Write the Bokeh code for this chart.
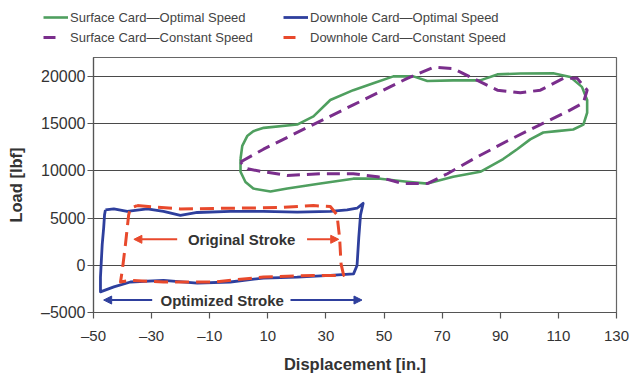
from bokeh.plotting import figure
from bokeh.layouts import column
from bokeh.models import (Range1d, FixedTicker, Legend, LegendItem, Label,
                          Arrow, NormalHead)
from bokeh.embed import file_html
from bokeh.resources import INLINE

# ---------------- data ----------------
x_ticks = [-50, -30, -10, 10, 30, 50, 70, 90, 110, 130]
x_tick_labels = ["\u201350", "\u201330", "\u201310", "10", "30", "50", "70", "90", "110", "130"]
y_ticks = [-5000, 0, 5000, 10000, 15000, 20000]
y_tick_labels = ["\u20135000", "0", "5000", "10000", "15000", "20000"]

series_names = ["Surface Card\u2014Optimal Speed", "Surface Card\u2014Constant Speed",
                "Downhole Card\u2014Optimal Speed", "Downhole Card\u2014Constant Speed"]

surface_opt_x = [0.6, 1.2, 2.9, 5.0, 8.6, 20.1, 25.7, 31.5, 39.4, 46.3, 53.2, 60.1, 64.9,
                 73.8, 83.1, 89.0, 96.9, 108.2, 114.1, 118.1, 119.9, 119.9, 118.6, 115.1,
                 109.5, 104.8, 100.3, 95.8, 91.0, 83.1, 73.8, 64.9, 58.0, 48.7, 39.4, 28.1,
                 16.7, 10.9, 5.0, 2.3, 0.6]
surface_opt_y = [11250, 12640, 13680, 14200, 14550, 14900, 15760, 17500, 18540, 19270, 20000,
                 20000, 19510, 19580, 19580, 20210, 20310, 20340, 19930, 18890, 17500, 16150,
                 14900, 14380, 14200, 14060, 13330, 12290, 11250, 9900, 9380, 8650, 8850,
                 9170, 9170, 8650, 8130, 7810, 8120, 8820, 9900]

surface_const_x = [0.6, 8.5, 22.2, 39.4, 58.0, 67.0, 73.8, 80.7, 89.0, 96.9, 103.8, 111.7,
                   116.5, 119.9, 118.6, 113.1, 103.8, 92.4, 80.7, 71.8, 64.9, 56.6, 47.7,
                   39.4, 28.1, 16.7, 8.5, 3.0]
surface_const_y = [10940, 12290, 14380, 16980, 19790, 20970, 20830, 19790, 18540, 18260,
                   18540, 19790, 19790, 18540, 17190, 16280, 14900, 13160, 11250, 9690,
                   8650, 8650, 9380, 9690, 9690, 9510, 9900, 10210]

downhole_opt_x = [-45.9, -43.0, -38.4, -31.5, -25.9, -20.1, -14.3, -2.9, 8.5, 20.1, 31.5,
                  37.3, 40.7, 42.8, 41.9, 41.3, 40.7, 39.5, 31.5, 20.1, 8.5, -2.9, -14.3,
                  -25.9, -37.3, -43.0, -47.6, -47.6, -47.0, -46.5, -46.2]
downhole_opt_y = [5860, 5970, 5700, 5970, 5700, 5280, 5590, 5700, 5700, 5620, 5700, 5860,
                  6040, 6560, 5340, 2920, -30, -910, -1070, -1250, -1350, -1770, -1880,
                  -1590, -1770, -2290, -2810, -1250, 2220, 3960, 5340]

downhole_const_x = [-35.0, -20.1, -2.9, 14.3, 25.7, 31.5, 33.8, 34.7, 35.2, 36.1, 25.7, 8.5,
                    -8.6, -25.9, -37.3, -40.7, -40.1, -39.0, -37.9, -37.3]
downhole_const_y = [6320, 5970, 6040, 6110, 6320, 6220, 5340, 2920, 140, -1070, -1070, -1250,
                    -1770, -1770, -1590, -1770, -550, 2220, 5340, 6040]

# stroke annotations: text, text position, arrow (tail, head) pairs
original_stroke_text = "Original Stroke"
original_stroke_pos = (1.0, 2750)
original_stroke_arrows = [(-21.2, -36.1), (23.5, 34.4)]
optimized_stroke_text = "Optimized Stroke"
optimized_stroke_pos = (-5.7, -3680)
optimized_stroke_arrows = [(-29.8, -46.5), (17.8, 42.4)]

# ---------------- styling ----------------
GREEN = "#4f9f5f"
PURPLE = "#7a2e8c"
BLUE = "#2e3f9d"
RED = "#e8492c"
TEXT = "#333333"
FONT = "Liberation Sans"

styles = [dict(line_color=GREEN, line_width=2.6),
          dict(line_color=PURPLE, line_width=3, line_dash="13 7"),
          dict(line_color=BLUE, line_width=2.8),
          dict(line_color=RED, line_width=3, line_dash="14 7")]
legend_styles = [dict(line_color=GREEN, line_width=2.6),
                 dict(line_color=PURPLE, line_width=3, line_dash="12 20"),
                 dict(line_color=BLUE, line_width=2.8),
                 dict(line_color=RED, line_width=3, line_dash="12 20")]

# ---------------- main plot ----------------
p = figure(width=629, height=319, output_backend="svg", toolbar_location=None,
           x_range=Range1d(-50, 130), y_range=Range1d(-5000, 22000),
           min_border_left=93, min_border_right=13, min_border_top=1,
           min_border_bottom=60)
p.frame_align = False
p.background_fill_color = "white"
p.border_fill_color = "white"
p.outline_line_color = "#666666"
p.outline_line_width = 1.2

p.xgrid.visible = False
p.ygrid.ticker = FixedTicker(ticks=y_ticks)
p.ygrid.grid_line_color = "#4a4a4a"
p.ygrid.grid_line_width = 1.2

p.xaxis.ticker = FixedTicker(ticks=x_ticks)
p.yaxis.ticker = FixedTicker(ticks=y_ticks)
p.xaxis.major_label_overrides = dict(zip(x_ticks, x_tick_labels))
p.yaxis.major_label_overrides = dict(zip(y_ticks, y_tick_labels))
for ax in (p.xaxis[0], p.yaxis[0]):
    ax.axis_line_color = "#555555"
    ax.axis_line_width = 1.2
    ax.major_tick_line_color = "#555555"
    ax.major_tick_line_width = 1.2
    ax.major_tick_out = 6
    ax.major_tick_in = 0
    ax.minor_tick_line_color = None
    ax.major_label_text_font = FONT
    ax.major_label_text_color = TEXT
    ax.axis_label_text_font = FONT
    ax.axis_label_text_font_size = "16.5px"
    ax.axis_label_text_font_style = "bold"
    ax.axis_label_text_color = TEXT
p.xaxis.major_label_text_font_size = "15px"
p.yaxis.major_label_text_font_size = "16px"
p.xaxis.major_label_standoff = 8
p.yaxis.major_label_standoff = 2
p.xaxis.axis_label = "Displacement [in.]"
p.yaxis.axis_label = "Load [lbf]"
p.xaxis.axis_label_standoff = 8
p.yaxis.axis_label_standoff = 13

def closed(v):
    return list(v) + [v[0]]

series = [(surface_opt_x, surface_opt_y), (surface_const_x, surface_const_y),
          (downhole_opt_x, downhole_opt_y), (downhole_const_x, downhole_const_y)]
for (xs, ys), st in zip(series, styles):
    p.line(closed(xs), closed(ys), line_join="round", **st)

# annotations
for text, pos, arrows, col in [
        (original_stroke_text, original_stroke_pos, original_stroke_arrows, RED),
        (optimized_stroke_text, optimized_stroke_pos, optimized_stroke_arrows, BLUE)]:
    p.add_layout(Label(x=pos[0], y=pos[1], text=text, text_font=FONT,
                       text_font_size="15px", text_font_style="bold", text_color=TEXT,
                       text_align="center", text_baseline="middle"))
    for tail, head in arrows:
        p.add_layout(Arrow(x_start=tail, y_start=pos[1], x_end=head, y_end=pos[1],
                           line_color=col, line_width=2,
                           end=NormalHead(size=8, fill_color=col, line_color=col)))

# ---------------- legend strip above the plot ----------------
lf = figure(width=629, height=56, output_backend="svg", toolbar_location=None,
            x_axis_type=None, y_axis_type=None, min_border=0,
            x_range=Range1d(0, 1), y_range=Range1d(0, 1))
lf.frame_align = False
lf.outline_line_color = None
lf.grid.visible = False
lf.border_fill_color = "white"
lf.background_fill_color = "white"
nan = float("nan")
legend_renderers = [lf.line([nan], [nan], **st) for st in legend_styles]

def make_legend(idx, loc):
    return Legend(items=[LegendItem(label=series_names[i], renderers=[legend_renderers[i]])
                         for i in idx],
                  location=loc, orientation="vertical",
                  background_fill_alpha=0, border_line_alpha=0,
                  glyph_width=25, glyph_height=16, label_height=16,
                  label_standoff=2, spacing=4, padding=0, margin=0,
                  label_text_font=FONT, label_text_font_size="13px",
                  label_text_color="#444444")

lf.add_layout(make_legend([0, 1], (43, 11)), "center")
lf.add_layout(make_legend([2, 3], (283, 11)), "center")

layout = column(lf, p, spacing=0)
open("out.html", "w").write(file_html(layout, INLINE))
